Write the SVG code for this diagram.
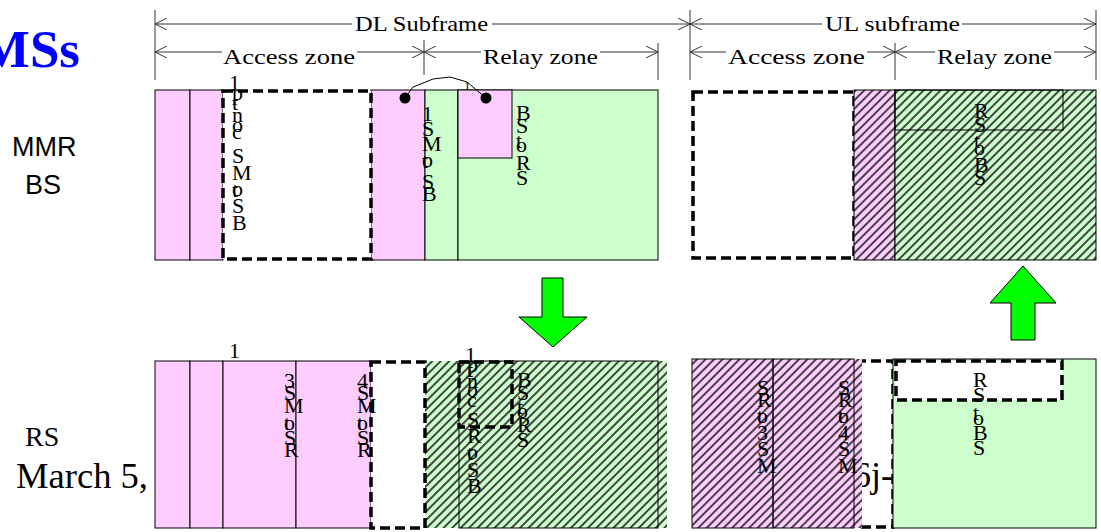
<svg xmlns="http://www.w3.org/2000/svg" width="1101" height="532" viewBox="0 0 1101 532">
<style>
.pk{fill:#ffccff;stroke:#000;stroke-width:1}
.gr{fill:#ccffcc;stroke:#000;stroke-width:1}
.ol{fill:none;stroke:#000;stroke-width:1}
.dw{fill:#fff;stroke:#000;stroke-width:3.5;stroke-dasharray:10 5}
.dn{fill:none;stroke:#000;stroke-width:3.5;stroke-dasharray:10 5}
.st{font-family:"Liberation Serif",serif;font-size:22px;fill:#000}
.lb{font-family:"Liberation Serif",serif;font-size:22px;fill:#000}
.dim{stroke:#333;stroke-width:1;fill:none}
.arr{fill:#00ff00;stroke:#000;stroke-width:1}
</style>
<defs>
<marker id="open" viewBox="0 0 12 12" refX="12" refY="6" markerWidth="12" markerHeight="12" markerUnits="userSpaceOnUse" orient="auto-start-reverse">
<path d="M0,0 L12,6 L0,12" fill="none" stroke="#333" stroke-width="1"/>
</marker>
<pattern id="hp" patternUnits="userSpaceOnUse" width="6" height="6" patternTransform="rotate(45)">
<rect width="6" height="6" fill="#ffccff"/><line x1="3" y1="0" x2="3" y2="6" stroke="#333" stroke-width="1.8"/>
</pattern>
<pattern id="hg" patternUnits="userSpaceOnUse" width="6" height="6" patternTransform="rotate(45)">
<rect width="6" height="6" fill="#ccffcc"/><line x1="3" y1="0" x2="3" y2="6" stroke="#333" stroke-width="1.8"/>
</pattern>
</defs>

<g id="labels">
<text x="80" y="67" text-anchor="end" style="font-family:'Liberation Serif',serif;font-size:53px;font-weight:bold;fill:#0000ff">MSs</text>
<text x="12" y="156" style="font-family:'Liberation Sans',sans-serif;font-size:27px">MMR</text>
<text x="25" y="194" style="font-family:'Liberation Sans',sans-serif;font-size:27px">BS</text>
<text x="25" y="446" style="font-family:'Liberation Serif',serif;font-size:28px">RS</text>
<text x="16" y="488" textLength="132" lengthAdjust="spacingAndGlyphs" style="font-family:'Liberation Serif',serif;font-size:36px">March 5,</text>
</g>

<g id="connectors">
<line class="dim" x1="155" y1="10" x2="155" y2="80"/>
<line class="dim" x1="690" y1="10" x2="690" y2="80"/>
<line class="dim" x1="1096" y1="10" x2="1096" y2="80"/>
<line class="dim" x1="424" y1="40" x2="424" y2="75"/>
<line class="dim" x1="658" y1="43" x2="658" y2="80"/>
<line class="dim" x1="895" y1="43" x2="895" y2="80"/>
<line class="dim" x1="155" y1="24" x2="352" y2="24" marker-start="url(#open)"/>
<line class="dim" x1="492" y1="24" x2="690" y2="24" marker-end="url(#open)"/>
<line class="dim" x1="690" y1="24" x2="822" y2="24" marker-start="url(#open)"/>
<line class="dim" x1="962" y1="24" x2="1096" y2="24" marker-end="url(#open)"/>
<line class="dim" x1="155" y1="52" x2="222" y2="52" marker-start="url(#open)"/>
<line class="dim" x1="357" y1="52" x2="424" y2="52" marker-end="url(#open)"/>
<line class="dim" x1="424" y1="52" x2="481" y2="52" marker-start="url(#open)"/>
<line class="dim" x1="600" y1="52" x2="658" y2="52" marker-end="url(#open)"/>
<line class="dim" x1="690" y1="52" x2="726" y2="52" marker-start="url(#open)"/>
<line class="dim" x1="867" y1="52" x2="895" y2="52" marker-end="url(#open)"/>
<line class="dim" x1="895" y1="52" x2="935" y2="52" marker-start="url(#open)"/>
<line class="dim" x1="1054" y1="52" x2="1096" y2="52" marker-end="url(#open)"/>
<text class="lb" x="355" y="31" textLength="133" lengthAdjust="spacingAndGlyphs">DL Subframe</text>
<text class="lb" x="825" y="31" textLength="135" lengthAdjust="spacingAndGlyphs">UL subframe</text>
<text class="lb" x="223" y="64" textLength="132" lengthAdjust="spacingAndGlyphs">Access zone</text>
<text class="lb" x="483" y="64" textLength="115" lengthAdjust="spacingAndGlyphs">Relay zone</text>
<text class="lb" x="728" y="64" textLength="137" lengthAdjust="spacingAndGlyphs">Access zone</text>
<text class="lb" x="937" y="64" textLength="115" lengthAdjust="spacingAndGlyphs">Relay zone</text>
</g>

<g id="mmr-dl">
<rect class="pk" x="155" y="90" width="35" height="170"/>
<rect class="pk" x="190" y="90" width="33" height="170"/>
<rect class="pk" x="371" y="90" width="54" height="170"/>
<rect class="gr" x="425" y="90" width="33" height="170"/>
<rect class="gr" x="458" y="90" width="200" height="170"/>
<rect class="pk" x="458" y="90" width="54" height="68"/>
<rect class="dw" x="223" y="91" width="148" height="168"/>
<text class="st"><tspan x="229" y="90">1</tspan><tspan x="232" y="100">p</tspan><tspan x="232" y="110">t</tspan><tspan x="232" y="122">n</tspan><tspan x="232" y="132">o</tspan><tspan x="232" y="139">c</tspan><tspan x="232" y="163">S</tspan><tspan x="232" y="180">M</tspan><tspan x="232" y="196">o</tspan><tspan x="232" y="197">t</tspan><tspan x="232" y="213">S</tspan><tspan x="232" y="230">B</tspan></text>
<text class="st"><tspan x="422" y="121">1</tspan><tspan x="422" y="136">S</tspan><tspan x="422" y="151">M</tspan><tspan x="422" y="167">o</tspan><tspan x="422" y="168">t</tspan><tspan x="422" y="189">S</tspan><tspan x="422" y="201">B</tspan></text>
<text class="st"><tspan x="516" y="120">B</tspan><tspan x="516" y="133">S</tspan><tspan x="516" y="148">t</tspan><tspan x="516" y="152">o</tspan><tspan x="516" y="170">R</tspan><tspan x="516" y="185">S</tspan></text>
</g>

<g id="relay-link">
<path d="M405,98 L413,87 L433,79 L450,77 L467,82 L486,98" fill="none" stroke="#000" stroke-width="1"/>
<circle cx="405" cy="98" r="5.5" fill="#000"/>
<circle cx="486" cy="98" r="5.5" fill="#000"/>
<text x="464" y="90" style="font-family:'Liberation Serif',serif;font-size:13px">1</text>
</g>

<g id="mmr-ul">
<rect class="dw" x="693" y="92" width="161" height="166"/>
<rect x="854" y="90" width="41" height="170" fill="url(#hp)" stroke="#000" stroke-width="1"/>
<rect x="895" y="90" width="201" height="170" fill="url(#hg)" stroke="#000" stroke-width="1"/>
<rect class="ol" x="895" y="90" width="168" height="40"/>
<text class="st"><tspan x="974" y="118">R</tspan><tspan x="974" y="132">S</tspan><tspan x="974" y="148">t</tspan><tspan x="974" y="155">o</tspan><tspan x="974" y="172">B</tspan><tspan x="974" y="185">S</tspan></text>
</g>

<g id="arrow-down">
<polygon class="arr" points="542,278 563,278 563,317 587,317 553,347 519,317 542,317"/>
</g>
<g id="arrow-up">
<polygon class="arr" points="1023,266 1056,303 1035,303 1035,340 1011,340 1011,303 990,303"/>
</g>

<g id="rs-dl">
<rect class="pk" x="155" y="361" width="35" height="167"/>
<rect class="pk" x="190" y="361" width="33" height="167"/>
<rect class="pk" x="223" y="361" width="73" height="167"/>
<rect class="pk" x="296" y="361" width="75" height="167"/>
<rect x="425" y="361" width="242" height="167" fill="url(#hg)"/>
<rect class="ol" x="459" y="361" width="199" height="167"/>
<rect class="dw" x="371" y="362" width="54" height="166"/>
<rect class="dn" x="459" y="362" width="53" height="65"/>
<text class="st" x="229" y="358">1</text>
<text class="st"><tspan x="284" y="388">3</tspan><tspan x="284" y="400">S</tspan><tspan x="284" y="413">M</tspan><tspan x="284" y="430">o</tspan><tspan x="284" y="430">t</tspan><tspan x="284" y="445">S</tspan><tspan x="284" y="457">R</tspan></text>
<text class="st"><tspan x="357" y="388">4</tspan><tspan x="357" y="400">S</tspan><tspan x="357" y="413">M</tspan><tspan x="357" y="430">o</tspan><tspan x="357" y="430">t</tspan><tspan x="357" y="445">S</tspan><tspan x="357" y="457">R</tspan></text>
<text class="st"><tspan x="465" y="362">1</tspan><tspan x="467" y="372">p</tspan><tspan x="467" y="377">t</tspan><tspan x="467" y="388">n</tspan><tspan x="467" y="397">o</tspan><tspan x="467" y="407">c</tspan><tspan x="467" y="427">S</tspan><tspan x="467" y="443">R</tspan><tspan x="467" y="459">o</tspan><tspan x="467" y="460">t</tspan><tspan x="467" y="477">S</tspan><tspan x="467" y="493">B</tspan></text>
<text class="st"><tspan x="517" y="387">B</tspan><tspan x="517" y="400">S</tspan><tspan x="517" y="414">t</tspan><tspan x="517" y="418">o</tspan><tspan x="517" y="432">R</tspan><tspan x="517" y="447">S</tspan></text>
</g>

<g id="rs-ul">
<rect class="dw" x="856" y="361" width="37" height="166"/>
<text x="853" y="487" style="font-family:'Liberation Serif',serif;font-size:36px">6j-</text>
<rect x="692" y="359" width="170" height="169" fill="url(#hp)"/>
<rect class="ol" x="692" y="359" width="81" height="169"/>
<rect class="ol" x="773" y="359" width="81" height="169"/>
<rect class="gr" x="893" y="359" width="203" height="169"/>
<rect class="dw" x="896" y="361" width="166" height="39"/>
<text class="st"><tspan x="757" y="395">S</tspan><tspan x="757" y="407">R</tspan><tspan x="757" y="423">o</tspan><tspan x="757" y="423">t</tspan><tspan x="757" y="440">3</tspan><tspan x="757" y="456">S</tspan><tspan x="757" y="473">M</tspan></text>
<text class="st"><tspan x="838" y="395">S</tspan><tspan x="838" y="407">R</tspan><tspan x="838" y="423">o</tspan><tspan x="838" y="423">t</tspan><tspan x="838" y="440">4</tspan><tspan x="838" y="456">S</tspan><tspan x="838" y="473">M</tspan></text>
<text class="st"><tspan x="973" y="387">R</tspan><tspan x="973" y="402">S</tspan><tspan x="973" y="420">t</tspan><tspan x="973" y="425">o</tspan><tspan x="973" y="440">B</tspan><tspan x="973" y="455">S</tspan></text>
</g>
</svg>
